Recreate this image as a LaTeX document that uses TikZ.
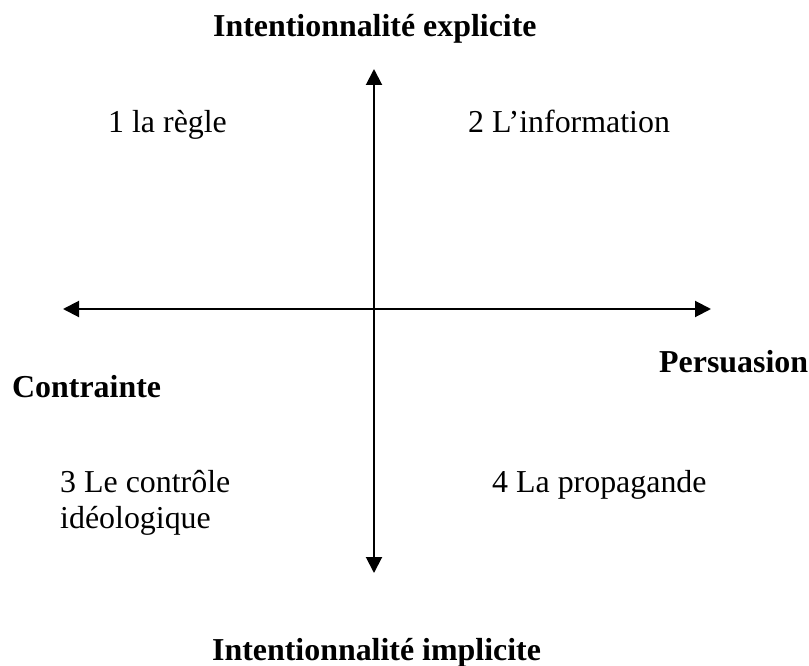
\documentclass[tikz,border=0pt]{standalone}
\usepackage{fontspec}
\setmainfont{Liberation Serif}
\usetikzlibrary{arrows.meta}
\begin{document}
\begin{tikzpicture}[x=1pt,y=-1pt,
  lbl/.style={anchor=base west,inner sep=0pt,font=\fontsize{31.9}{36}\selectfont},
  title/.style={lbl,font=\fontsize{31.9}{36}\selectfont\bfseries},
  axis/.style={line width=2pt,{Triangle[length=16pt,width=16pt]}-{Triangle[length=16pt,width=16pt]}}]
\useasboundingbox[fill=white] (0,0) rectangle (809,666);
\coordinate (top) at (374,69);
\coordinate (bottom) at (374,573);
\coordinate (left) at (63,309);
\coordinate (right) at (711,309);
\draw[axis] (bottom) -- (top);
\draw[axis] (left) -- (right);
\node[title] (explicite) at (213,37) {Intentionnalité explicite};
\node[title] (implicite) at (212,660) {Intentionnalité implicite};
\node[title] (persuasion) at (659,372) {Persuasion};
\node[title] (contrainte) at (12,397) {Contrainte};
\node[lbl] (regle) at (108,133) {1 la règle};
\node[lbl] (info) at (468,133) {2 L’information};
\node[lbl,align=left] (controle) at (60,528) {3 Le contrôle\\idéologique};
\node[lbl] (propagande) at (492,492) {4 La propagande};
\end{tikzpicture}
\end{document}
